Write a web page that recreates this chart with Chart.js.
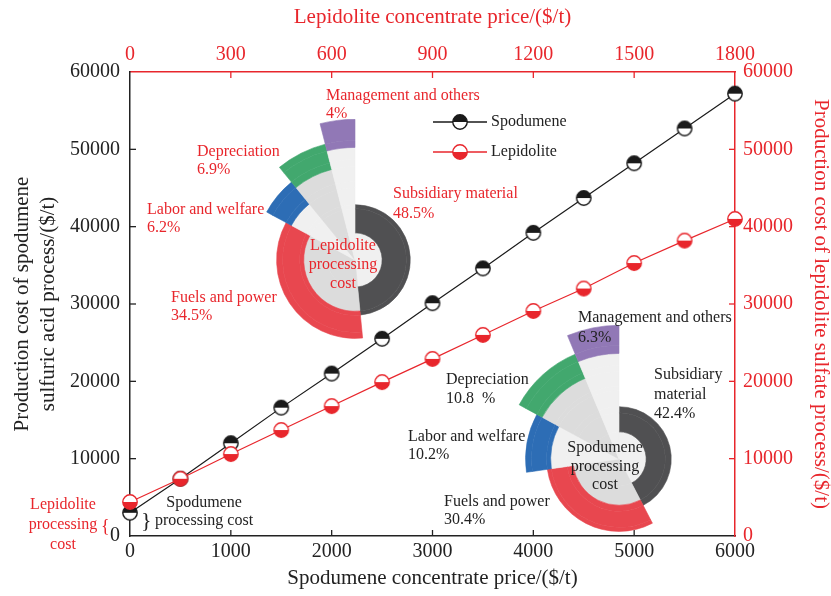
<!DOCTYPE html>
<html><head><meta charset="utf-8">
<script src="https://cdn.jsdelivr.net/npm/chart.js@4.4.1/dist/chart.umd.min.js"></script>
<style>
body{margin:0;background:#fff;}
#wrap{position:relative;width:831px;height:596px;overflow:hidden;font-family:"Liberation Serif","Times New Roman",serif;}
#main{position:absolute;left:0;top:0;}
.inset{position:absolute;}
.lbl{position:absolute;font-size:16px;white-space:nowrap;}
.red{color:#e8262c;}
.dark{color:#222;}
.ctr{text-align:center;transform:translateX(-50%);}
</style></head><body>
<div id="wrap">
<canvas id="main" width="831" height="596"></canvas>
<canvas id="lepPie" class="inset"></canvas>
<canvas id="spoPie" class="inset"></canvas>

<!-- Lepidolite inset labels -->
<div class="lbl red" style="left:326px;top:86px;line-height:18px;">Management and others<br>4%</div>
<div class="lbl red" style="left:197px;top:142px;line-height:18px;">Depreciation<br>6.9%</div>
<div class="lbl red" style="left:147px;top:200px;line-height:18px;">Labor and welfare<br>6.2%</div>
<div class="lbl red" style="left:393px;top:183px;line-height:20px;">Subsidiary material<br>48.5%</div>
<div class="lbl red" style="left:171px;top:288px;line-height:18px;">Fuels and power<br>34.5%</div>
<div class="lbl red ctr" style="left:343px;top:235px;line-height:19px;">Lepidolite<br>processing<br>cost</div>

<!-- Spodumene inset labels -->
<div class="lbl dark" style="left:578px;top:307px;line-height:20px;">Management and others<br>6.3%</div>
<div class="lbl dark" style="left:654px;top:364px;line-height:19.5px;">Subsidiary<br>material<br>42.4%</div>
<div class="lbl dark" style="left:446px;top:369px;line-height:19px;">Depreciation<br>10.8&nbsp; %</div>
<div class="lbl dark" style="left:408px;top:427px;line-height:18px;">Labor and welfare<br>10.2%</div>
<div class="lbl dark" style="left:444px;top:492px;line-height:18px;">Fuels and power<br>30.4%</div>
<div class="lbl dark ctr" style="left:605px;top:438px;line-height:18.5px;">Spodumene<br>processing<br>cost</div>

<!-- processing cost annotations -->
<div class="lbl red ctr" style="left:63px;top:494px;line-height:20px;">Lepidolite<br>processing<br>cost</div>
<div class="lbl red" style="left:101px;top:515px;font-size:18px;line-height:22px;">{</div>
<div class="lbl dark" style="left:141px;top:507px;font-size:22px;line-height:26px;">}</div>
<div class="lbl dark ctr" style="left:204px;top:493px;line-height:18px;">Spodumene<br>processing cost</div>
</div>
<script>
// ---------------- data ----------------
const spodumenePrice = [0, 500, 1000, 1500, 2000, 2500, 3000, 3500, 4000, 4500, 5000, 5500, 6000];
const spodumeneCost  = [3000, 7400, 12000, 16600, 21000, 25500, 30100, 34600, 39200, 43700, 48200, 52700, 57200];
const lepidolitePrice = [0, 150, 300, 450, 600, 750, 900, 1050, 1200, 1350, 1500, 1650, 1800];
const lepidoliteCost  = [4400, 7400, 10600, 13700, 16800, 19900, 22900, 26000, 29100, 32000, 35300, 38200, 41000];
const costItems = ['Subsidiary material', 'Fuels and power', 'Labor and welfare', 'Depreciation', 'Management and others'];
const lepidoliteShares = [48.5, 34.5, 6.2, 6.9, 4];
const spodumeneShares  = [42.4, 30.4, 10.2, 10.8, 6.3];

// ---------------- styles ----------------
const RED = '#e8262c';
const DARK = '#222222';
const FONT = '"Liberation Serif", "Times New Roman", serif';
Chart.defaults.font.family = FONT;
Chart.defaults.color = DARK;
const plain = v => String(v);

function makeMarker(topColor, bottomColor, edge) {
  const c = document.createElement('canvas');
  c.width = 18; c.height = 18;
  const g = c.getContext('2d');
  const r = 7.2;
  g.beginPath(); g.arc(9, 9, r, Math.PI, 2 * Math.PI); g.closePath(); g.fillStyle = topColor; g.fill();
  g.beginPath(); g.arc(9, 9, r, 0, Math.PI); g.closePath(); g.fillStyle = bottomColor; g.fill();
  g.beginPath(); g.arc(9, 9, r, 0, 2 * Math.PI); g.lineWidth = 1.4; g.strokeStyle = edge; g.stroke();
  return c;
}
const spoMarker = makeMarker('#1a1a1a', '#ffffff', '#1a1a1a');
const lepMarker = makeMarker('#ffffff', RED, RED);

// inward tick marks
const inwardTicks = {
  id: 'inwardTicks',
  afterDraw(chart) {
    const ctx = chart.ctx, ca = chart.chartArea, L = 6;
    const cfg = {
      x:  {color: DARK, horiz: true,  base: ca.bottom, dir: -1},
      x2: {color: RED,  horiz: true,  base: ca.top,    dir: 1},
      y:  {color: DARK, horiz: false, base: ca.left,   dir: 1},
      y2: {color: RED,  horiz: false, base: ca.right,  dir: -1}
    };
    ctx.save();
    ctx.lineWidth = 1.3;
    for (const id in cfg) {
      const s = chart.scales[id], c = cfg[id];
      ctx.strokeStyle = c.color;
      s.ticks.forEach((t, i) => {
        if (i === 0 || i === s.ticks.length - 1) return;
        const p = s.getPixelForValue(t.value);
        ctx.beginPath();
        if (c.horiz) { ctx.moveTo(p, c.base); ctx.lineTo(p, c.base + c.dir * L); }
        else { ctx.moveTo(c.base, p); ctx.lineTo(c.base + c.dir * L, p); }
        ctx.stroke();
      });
    }
    ctx.restore();
  }
};

// in-plot legend
const innerLegend = {
  id: 'innerLegend',
  afterDatasetsDraw(chart) {
    const ctx = chart.ctx;
    const x0 = 433, y0 = 122, gap = 30, len = 54;
    ctx.save();
    chart.data.datasets.forEach((ds, i) => {
      const y = y0 + i * gap;
      ctx.strokeStyle = ds.borderColor; ctx.lineWidth = 1.3;
      ctx.beginPath(); ctx.moveTo(x0, y); ctx.lineTo(x0 + len, y); ctx.stroke();
      ctx.drawImage(ds.pointStyle, x0 + len / 2 - 9, y - 9);
      ctx.fillStyle = DARK; ctx.font = '16px ' + FONT; ctx.textBaseline = 'middle'; ctx.textAlign = 'left';
      ctx.fillText(ds.label, x0 + len + 4, y);
    });
    ctx.restore();
  }
};

const noGrid = {display: false, drawTicks: false};

new Chart(document.getElementById('main'), {
  type: 'line',
  data: {
    datasets: [
      {
        label: 'Spodumene',
        data: spodumenePrice.map((p, i) => ({x: p, y: spodumeneCost[i]})),
        xAxisID: 'x', yAxisID: 'y',
        borderColor: '#1a1a1a', borderWidth: 1.2,
        pointStyle: spoMarker, pointRadius: 8, order: 2, clip: false
      },
      {
        label: 'Lepidolite',
        data: lepidolitePrice.map((p, i) => ({x: p, y: lepidoliteCost[i]})),
        xAxisID: 'x2', yAxisID: 'y2',
        borderColor: RED, borderWidth: 1.2,
        pointStyle: lepMarker, pointRadius: 8, order: 1, clip: false
      }
    ]
  },
  options: {
    responsive: false, animation: false, events: [],
    layout: {padding: 0},
    plugins: {legend: {display: false}, tooltip: {enabled: false}},
    scales: {
      x: {
        type: 'linear', position: 'bottom', min: 0, max: 6000,
        afterFit: s => { s.height = 60; },
        grid: noGrid, border: {display: true, color: DARK, width: 1.5},
        ticks: {stepSize: 1000, color: DARK, font: {size: 20}, padding: 4, maxRotation: 0, autoSkip: false, callback: plain},
        title: {display: true, text: 'Spodumene concentrate price/($/t)', color: DARK, font: {size: 21, lineHeight: 1.2}, padding: {top: 0, bottom: 5}}
      },
      x2: {
        type: 'linear', position: 'top', min: 0, max: 1800,
        afterFit: s => { s.height = 72; },
        grid: noGrid, border: {display: true, color: RED, width: 1.5},
        ticks: {stepSize: 300, color: RED, font: {size: 20}, padding: 5, maxRotation: 0, autoSkip: false, callback: plain},
        title: {display: true, text: 'Lepidolite concentrate price/($/t)', color: RED, font: {size: 21, lineHeight: 1.2}, padding: {top: 5, bottom: 0}}
      },
      y: {
        type: 'linear', position: 'left', min: 0, max: 60000,
        afterFit: s => { s.width = 130; },
        grid: noGrid, border: {display: true, color: DARK, width: 1.5},
        ticks: {stepSize: 10000, color: DARK, font: {size: 20}, padding: 10, autoSkip: false, callback: plain},
        title: {display: true, text: ['Production cost of spodumene', 'sulfuric acid process/($/t)'], color: DARK, font: {size: 21, lineHeight: 1.24}, padding: {top: 9, bottom: 0}}
      },
      y2: {
        type: 'linear', position: 'right', min: 0, max: 60000,
        afterFit: s => { s.width = 96; },
        grid: noGrid, border: {display: true, color: RED, width: 1.5},
        ticks: {stepSize: 10000, color: RED, font: {size: 20}, padding: 8, autoSkip: false, callback: plain},
        title: {display: true, text: 'Production cost of lepidolite sulfate process/($/t)', color: RED, font: {size: 21, lineHeight: 1}, padding: {top: 0, bottom: 0}}
      }
    }
  },
  plugins: [inwardTicks, innerLegend]
});

// ---------------- insets (stacked rose doughnuts) ----------------
const sectorColors = ['#505052', '#e8474f', '#2d6db5', '#42a86e', '#9178b6'];
const sectorShades = ['#f0f0f0', '#dcdcdc', '#f0f0f0', '#dcdcdc', '#f0f0f0'];

function buildRings(shares, inner, outer) {
  const bounds = Array.from(new Set([0, ...inner, ...outer])).sort((a, b) => b - a);
  const sets = [];
  for (let i = 0; i < bounds.length - 1; i++) {
    const b = bounds[i], a = bounds[i + 1];
    const bg = shares.map((_, k) =>
      b <= inner[k] ? sectorShades[k] : (a >= inner[k] && b <= outer[k] ? sectorColors[k] : 'rgba(0,0,0,0)'));
    sets.push({
      data: shares, backgroundColor: bg, borderColor: bg, borderWidth: 0.6,
      hoverBorderWidth: 0.6, hoverOffset: 0, offset: 0, weight: b - a
    });
  }
  return sets;
}

function drawInset(id, shares, cx, cy, inner, outer) {
  const R = Math.max(...outer) + 1;
  const cv = document.getElementById(id);
  cv.width = 2 * R; cv.height = 2 * R;
  cv.style.left = (cx - R) + 'px'; cv.style.top = (cy - R) + 'px';
  new Chart(cv, {
    type: 'doughnut',
    data: {labels: costItems, datasets: buildRings(shares, inner, outer)},
    options: {
      responsive: false, animation: false, events: [],
      cutout: 0, rotation: 0, circumference: 360, spacing: 0,
      layout: {padding: 0},
      plugins: {legend: {display: false}, tooltip: {enabled: false}}
    }
  });
}

drawInset('lepPie', lepidoliteShares, 355, 260, [27, 51, 72, 93, 112], [55, 78, 100, 119, 140]);
drawInset('spoPie', spodumeneShares, 619, 459, [27, 46, 68, 87, 105], [52, 72, 93, 113, 133]);
</script>
</body></html>
